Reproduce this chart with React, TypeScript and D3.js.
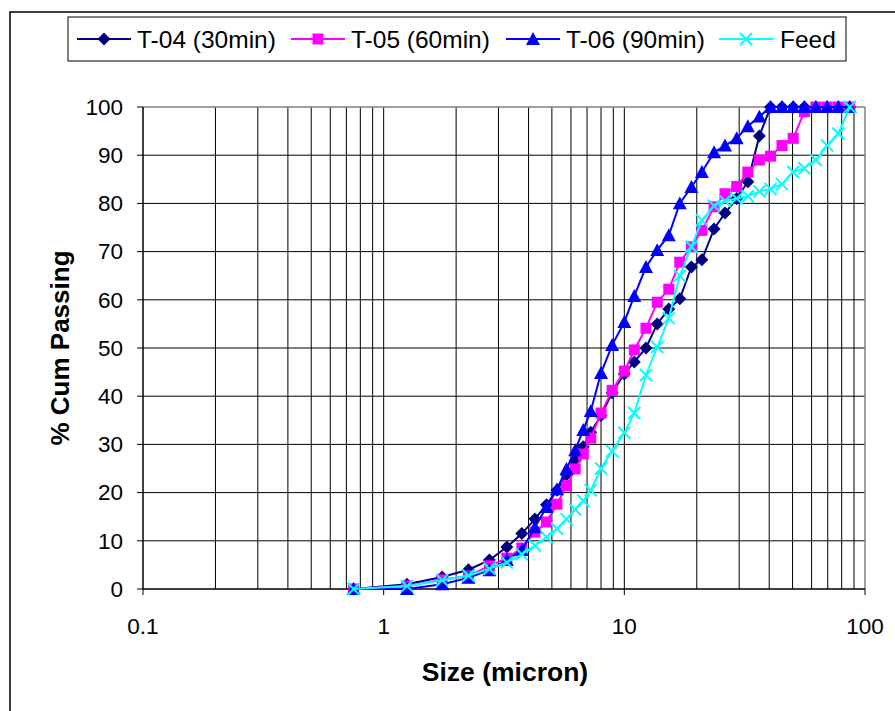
import React from "react";
import * as d3 from "d3";

const sizes = [0.75, 1.25, 1.75, 2.25, 2.75, 3.25, 3.75, 4.25, 4.75, 5.25, 5.75, 6.25, 6.75, 7.25, 8, 8.9, 10, 11, 12.3, 13.7, 15.3, 17, 19, 21, 23.6, 26.2, 29.3, 32.6, 36.4, 40.5, 45.2, 50.3, 56, 62.5, 69.6, 77.5, 86.4];

const t04 = [0, 1, 2.5, 4, 6, 8.7, 11.5, 14.5, 17.5, 20.5, 23.7, 26.6, 29.5, 32.5, 36, 40.7, 44.6, 47.1, 50, 55, 58.1, 60.2, 66.8, 68.3, 74.7, 78, 81, 84.5, 94, 100, 100, 100, 100, 100, 100, 100, 100];
const t05 = [0, 0.6, 1.9, 2.7, 4.8, 6.4, 8.5, 11.8, 13.9, 17.6, 21.4, 24.9, 28, 31.3, 36.5, 41.2, 45.2, 49.6, 54.1, 59.5, 62.2, 67.8, 71, 74.4, 79.3, 82, 83.5, 86.5, 89, 89.8, 92, 93.5, 99, 100, 100, 100, 100];
const t06 = [0, 0, 1, 2.3, 3.9, 6, 8.1, 12.8, 17, 20.7, 24.9, 28.8, 33, 36.9, 44.8, 50.6, 55.4, 60.8, 66.8, 70.3, 73.4, 80, 83.4, 86.5, 90.6, 92, 93.5, 96, 98, 100, 100, 100, 100, 100, 100, 100, 100];
const feed = [0, 0.6, 1.8, 2.8, 4.2, 5.5, 7.2, 9, 10.8, 12.5, 14.5, 16.5, 18.3, 20.5, 25, 28.6, 32.4, 36.5, 44.4, 50.2, 56.2, 65, 71, 76.5, 79.5, 80.5, 81, 81.5, 82.5, 83, 84, 86.5, 87.3, 89, 92, 94.5, 100];

const seriesNames = ["T-04 (30min)", "T-05 (60min)", "T-06 (90min)", "Feed"];
const seriesColors = ["#000080", "#FF00FF", "#0000FF", "#00FFFF"];
const seriesMarkers = ["diamond", "square", "triangle", "x"];
const seriesValues = [t04, t05, t06, feed];

const xTicks = [0.1, 1, 10, 100];
const yTicks = [0, 10, 20, 30, 40, 50, 60, 70, 80, 90, 100];

const FONT = "Liberation Sans, Arial, sans-serif";

function Marker({ type, x, y, color }: { type: string; x: number; y: number; color: string }) {
  if (type === "diamond") {
    const s = 6.5;
    return <path d={`M${x},${y - s}L${x + s},${y}L${x},${y + s}L${x - s},${y}Z`} fill={color} />;
  }
  if (type === "square") {
    const s = 5.5;
    return <rect x={x - s} y={y - s} width={2 * s} height={2 * s} fill={color} />;
  }
  if (type === "triangle") {
    const s = 7;
    return <path d={`M${x},${y - s}L${x + s},${y + s * 0.85}L${x - s},${y + s * 0.85}Z`} fill={color} />;
  }
  const s = 6;
  return (
    <path d={`M${x - s},${y - s}L${x + s},${y + s}M${x - s},${y + s}L${x + s},${y - s}`} stroke={color} strokeWidth={2} fill="none" />
  );
}

export default function App() {
  const W = 895, H = 711;
  const left = 143, right = 865, top = 107, bottom = 589;
  const x = d3.scaleLog().domain([0.1, 100]).range([left, right]);
  const y = d3.scaleLinear().domain([0, 100]).range([bottom, top]);

  const minor: number[] = [];
  [0.1, 1, 10].forEach((d) => {
    for (let k = 2; k <= 9; k++) minor.push(d * k);
  });

  const line = d3
    .line<[number, number]>()
    .x((d) => x(d[0]))
    .y((d) => y(d[1]));

  const legendItems = [
    { lx: 77, tx: 137 },
    { lx: 291, tx: 351 },
    { lx: 506, tx: 566 },
    { lx: 719, tx: 780 },
  ];

  return (
    <svg width={W} height={H} style={{ position: "absolute", left: 0, top: 0, background: "#fff" }} fontFamily={FONT}>
      <rect x={0} y={0} width={W} height={H} fill="#fff" />
      <rect x={10} y={12} width={W + 20} height={H + 20} fill="none" stroke="#000" strokeWidth={1.5} />

      {/* grid */}
      {minor.map((v) => (
        <line key={"m" + v} x1={x(v)} x2={x(v)} y1={top} y2={bottom} stroke="#000" strokeWidth={1} />
      ))}
      {xTicks.slice(1, 3).map((v) => (
        <line key={"M" + v} x1={x(v)} x2={x(v)} y1={top} y2={bottom} stroke="#000" strokeWidth={1} />
      ))}
      {yTicks.slice(1, -1).map((v) => (
        <line key={"h" + v} x1={left} x2={right} y1={y(v)} y2={y(v)} stroke="#000" strokeWidth={1} />
      ))}
      {/* plot border */}
      <line x1={left} x2={right} y1={top} y2={top} stroke="#808080" strokeWidth={1.5} />
      <line x1={right} x2={right} y1={top} y2={bottom} stroke="#808080" strokeWidth={1.5} />
      {/* axes */}
      <line x1={left} x2={left} y1={top} y2={bottom} stroke="#000" strokeWidth={1.5} />
      <line x1={left} x2={right} y1={bottom} y2={bottom} stroke="#000" strokeWidth={1.5} />

      {yTicks.map((v) => (
        <g key={"yt" + v}>
          <line x1={left - 6} x2={left} y1={y(v)} y2={y(v)} stroke="#000" strokeWidth={1} />
          <text x={123} y={y(v)} dy="0.35em" textAnchor="end" fontSize={22.5} fill="#000">
            {v}
          </text>
        </g>
      ))}
      {xTicks.map((v) => (
        <g key={"xt" + v}>
          <line x1={x(v)} x2={x(v)} y1={bottom} y2={bottom + 6} stroke="#000" strokeWidth={1} />
          <text x={x(v)} y={634} textAnchor="middle" fontSize={22.5} fill="#000">
            {v}
          </text>
        </g>
      ))}

      <text x={505} y={681} textAnchor="middle" fontSize={26.5} fontWeight="bold" fill="#000">
        Size (micron)
      </text>
      <text transform={`translate(69,${348}) rotate(-90)`} textAnchor="middle" fontSize={26} fontWeight="bold" fill="#000">
        % Cum Passing
      </text>

      {/* series */}
      {seriesValues.map((vals, i) => {
        const pts = sizes.map((s, j) => [s, vals[j]] as [number, number]);
        return (
          <g key={"s" + i}>
            <path d={line(pts) || ""} fill="none" stroke={seriesColors[i]} strokeWidth={2} />
            {pts.map((p, j) => (
              <Marker key={j} type={seriesMarkers[i]} x={x(p[0])} y={y(p[1])} color={seriesColors[i]} />
            ))}
          </g>
        );
      })}

      {/* legend */}
      <rect x={68} y={17} width={778} height={44} fill="#fff" stroke="#000" strokeWidth={1} />
      {legendItems.map((it, i) => (
        <g key={"l" + i}>
          <line x1={it.lx} x2={it.lx + 54} y1={39} y2={39} stroke={seriesColors[i]} strokeWidth={2} />
          <Marker type={seriesMarkers[i]} x={it.lx + 27} y={39} color={seriesColors[i]} />
          <text x={it.tx} y={39} dy="0.35em" fontSize={24.5} fill="#000">
            {seriesNames[i]}
          </text>
        </g>
      ))}
    </svg>
  );
}
